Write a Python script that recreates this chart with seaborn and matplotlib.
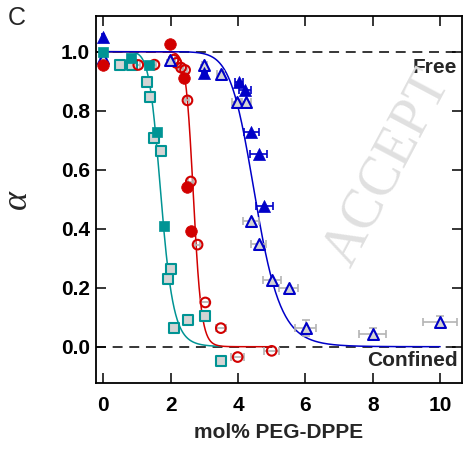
import numpy as np
import pandas as pd
import matplotlib
matplotlib.use("Agg")
import matplotlib.pyplot as plt
import seaborn as sns

# ---------------- data ----------------
teal_filled_x = [0.0, 0.82, 1.35, 1.60, 1.81]
teal_filled_y = [1.00, 0.980, 0.956, 0.728, 0.408]
teal_filled_xerr = [0.03, 0.05, 0.05, 0.06, 0.05]

teal_open_x = [0.50, 0.85, 1.31, 1.39, 1.50, 1.71, 1.91, 2.01, 2.11, 2.51, 3.03, 3.49]
teal_open_y = [0.956, 0.954, 0.896, 0.845, 0.708, 0.663, 0.230, 0.264, 0.062, 0.092, 0.104, -0.050]
teal_open_xerr = [0.05, 0.05, 0.05, 0.05, 0.06, 0.06, 0.06, 0.06, 0.07, 0.08, 0.08, 0.08]

red_filled_x = [0.0, 1.99, 2.41, 2.50, 2.60]
red_filled_y = [0.956, 1.027, 0.911, 0.541, 0.391]
red_filled_xerr = [0.03, 0.05, 0.06, 0.08, 0.08]

red_open_x = [1.04, 1.52, 2.09, 2.17, 2.31, 2.43, 2.50, 2.60, 2.80, 3.03, 3.49, 3.99, 5.00]
red_open_y = [0.955, 0.956, 0.973, 0.962, 0.946, 0.938, 0.835, 0.560, 0.346, 0.150, 0.063, -0.035, -0.014]
red_open_xerr = [0.05, 0.05, 0.05, 0.05, 0.06, 0.06, 0.06, 0.07, 0.08, 0.12, 0.15, 0.20, 0.22]

blue_filled_x = [0.0, 3.00, 4.02, 4.21, 4.39, 4.61, 4.78]
blue_filled_y = [1.050, 0.928, 0.896, 0.869, 0.727, 0.654, 0.478]
blue_filled_xerr = [0.03, 0.08, 0.12, 0.18, 0.22, 0.24, 0.25]

blue_open_x = [0.0, 1.99, 3.00, 3.49, 3.97, 4.23, 4.38, 4.61, 5.00, 5.50, 6.01, 8.00, 10.00]
blue_open_y = [0.980, 0.973, 0.956, 0.924, 0.828, 0.828, 0.427, 0.349, 0.227, 0.199, 0.063, 0.044, 0.084]
blue_open_xerr = [0.03, 0.05, 0.08, 0.10, 0.15, 0.15, 0.24, 0.23, 0.27, 0.27, 0.32, 0.40, 0.50]
blue_open_yerr = [0, 0, 0, 0, 0, 0, 0, 0, 0, 0, 0.028, 0.020, 0.020]

# fitted sigmoid parameters (midpoint, steepness, end of fit range)
fit_params = {"teal": (1.72, 9.4, 3.5), "red": (2.68, 23.0, 5.0), "blue": (4.52, 12.0, 10.0)}

x_ticks = [0, 2, 4, 6, 8, 10]
y_ticks = [0.0, 0.2, 0.4, 0.6, 0.8, 1.0]

TEAL = "#009494"
RED = "#d20000"
BLUE = "#0000c8"
GREY = "#b4b4b4"

# ---------------- figure ----------------
sns.set_style("ticks")
plt.rcParams["font.family"] = ["Liberation Sans", "DejaVu Sans"]

fig = plt.figure(figsize=(4.65, 4.5), dpi=100)
ax = fig.add_axes([96 / 465, 1 - 383.3 / 450, (461.7 - 96) / 465, (383.3 - 15.7) / 450])

# reference lines
for yv in (1.0, 0.0):
    ax.axhline(yv, color="black", lw=1.1, ls=(0, (6.5, 4.4)), zorder=1)

# fit curves
colors = {"teal": TEAL, "red": RED, "blue": BLUE}
for name, (x0, n, xmax) in fit_params.items():
    xs = np.linspace(0, xmax, 400)
    ys = 1.0 / (1.0 + (xs / x0) ** n)
    sns.lineplot(x=xs, y=ys, color=colors[name], lw=1.1, ax=ax, zorder=2)

# error bars
def ebars(x, y, xerr, color, yerr=None):
    ax.errorbar(x, y, xerr=xerr, yerr=yerr, fmt="none", ecolor=color,
                elinewidth=1.2, capsize=2.6, capthick=1.2, zorder=3)

ebars(teal_open_x, teal_open_y, teal_open_xerr, GREY)
ebars(red_open_x, red_open_y, red_open_xerr, GREY)
ebars(blue_open_x, blue_open_y, blue_open_xerr, GREY, blue_open_yerr)
ebars(teal_filled_x, teal_filled_y, teal_filled_xerr, TEAL)
ebars(red_filled_x, red_filled_y, red_filled_xerr, RED)
ebars(blue_filled_x, blue_filled_y, blue_filled_xerr, BLUE)

# markers
OPEN_FACE = "#d4d4d4"
sns.scatterplot(x=teal_open_x, y=teal_open_y, marker="s", s=42, color=OPEN_FACE,
                edgecolor=TEAL, linewidth=1.5, ax=ax, zorder=4)
sns.scatterplot(x=red_open_x, y=red_open_y, marker="o", s=48, color="none",
                edgecolor=RED, linewidth=1.5, ax=ax, zorder=4)
sns.scatterplot(x=blue_open_x, y=blue_open_y, marker="^", s=62, color=OPEN_FACE,
                edgecolor=BLUE, linewidth=1.5, ax=ax, zorder=4)
sns.scatterplot(x=teal_filled_x, y=teal_filled_y, marker="s", s=55, color=TEAL,
                edgecolor=TEAL, linewidth=0.5, ax=ax, zorder=5)
sns.scatterplot(x=red_filled_x, y=red_filled_y, marker="o", s=70, color=RED,
                edgecolor=RED, linewidth=0.5, ax=ax, zorder=5)
sns.scatterplot(x=blue_filled_x, y=blue_filled_y, marker="^", s=75, color=BLUE,
                edgecolor=BLUE, linewidth=0.5, ax=ax, zorder=5)

# axes styling
ax.set_xlim(-0.215, 10.64)
ax.set_ylim(-0.124, 1.122)
ax.set_xticks(x_ticks)
ax.set_yticks(y_ticks)
ax.set_xticklabels([str(t) for t in x_ticks])
ax.set_yticklabels([f"{t:.1f}" for t in y_ticks])
for sp in ax.spines.values():
    sp.set_visible(True)
    sp.set_linewidth(1.3)
    sp.set_color("black")
ax.tick_params(direction="in", length=7.5, width=1.1, top=True, right=True,
               labeltop=False, labelright=False, colors="black")
ax.tick_params(axis="x", pad=9)
ax.tick_params(axis="y", pad=4.5)
for lab in ax.get_xticklabels() + ax.get_yticklabels():
    lab.set_fontweight("bold")
    lab.set_fontsize(15)

ax.set_xlabel("mol% PEG-DPPE", fontsize=15, fontweight="bold", labelpad=6)
ax.set_ylabel("α", fontsize=26, fontstyle="italic",
              fontfamily=["Liberation Serif", "DejaVu Serif"], labelpad=19)

ax.text(10.5, 0.946, "Free", fontsize=15, fontweight="bold", ha="right", va="center")
ax.text(10.53, -0.048, "Confined", fontsize=15, fontweight="bold", ha="right", va="center")

# panel label
fig.text(8 / 465, 1 - 6 / 450, "C", fontsize=18, ha="left", va="top")

# watermark
fig.text(388 / 465, 1 - 168 / 450, "ACCEPT", fontsize=40, color="#e0e0e0",
         fontfamily=["Liberation Serif", "DejaVu Serif"], rotation=62,
         ha="center", va="center", zorder=0)

fig.savefig("out.png", dpi=100)
